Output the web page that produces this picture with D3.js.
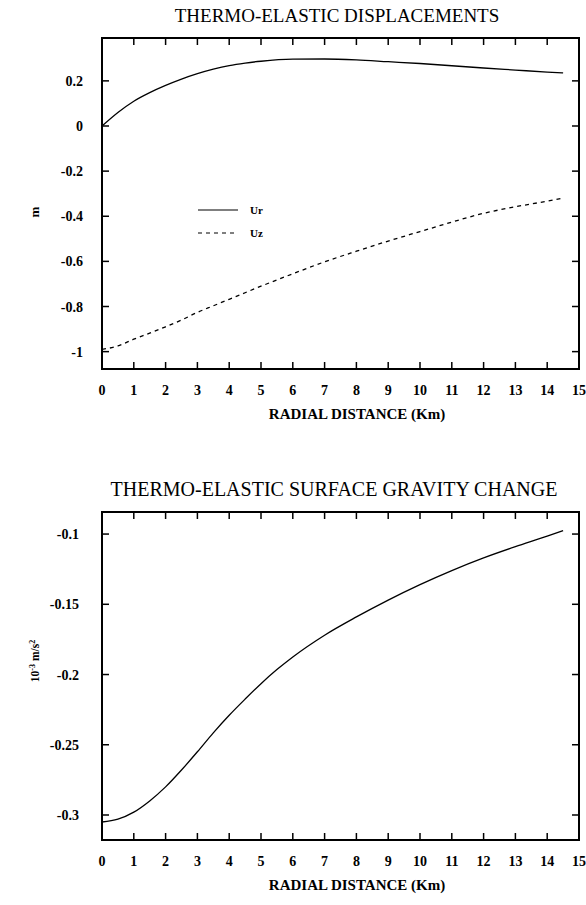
<!DOCTYPE html>
<html>
<head>
<meta charset="utf-8">
<script src="https://cdn.jsdelivr.net/npm/d3@7"></script>
<style>
  body { margin: 0; background: #fff; }
  svg { display: block; }
  text { font-family: "Liberation Serif", "Times New Roman", serif; fill: #000; }
  .tick-label { font-size: 14px; font-weight: bold; }
</style>
</head>
<body>
<div id="chart"></div>
<script>
// radial distance (km) sample points
var distUr = [0, 0.5, 1, 1.5, 2, 2.5, 3, 3.5, 4, 4.5, 5, 6, 7, 8, 9, 10, 11, 12, 13, 14, 14.5];
var valUr  = [0, 0.06, 0.11, 0.148, 0.18, 0.208, 0.232, 0.252, 0.268, 0.279, 0.287, 0.296, 0.297, 0.293, 0.285, 0.277, 0.267, 0.257, 0.248, 0.239, 0.235];

var distUz = [0, 0.5, 1, 1.5, 2, 2.5, 3, 3.5, 4, 5, 6, 7, 8, 9, 10, 11, 12, 13, 14, 14.5];
var valUz  = [-0.99, -0.975, -0.945, -0.918, -0.89, -0.86, -0.826, -0.797, -0.768, -0.71, -0.655, -0.602, -0.555, -0.51, -0.468, -0.426, -0.387, -0.358, -0.333, -0.319];

var distG = [0, 0.5, 1, 1.5, 2, 2.5, 3, 3.5, 4, 4.5, 5, 5.5, 6, 7, 8, 9, 10, 11, 12, 13, 14, 14.5];
var valG  = [-0.305, -0.303, -0.298, -0.29, -0.28, -0.268, -0.255, -0.2415, -0.229, -0.2175, -0.2065, -0.1965, -0.1875, -0.172, -0.159, -0.147, -0.136, -0.126, -0.117, -0.109, -0.1015, -0.0975];

var xTicks = [0, 1, 2, 3, 4, 5, 6, 7, 8, 9, 10, 11, 12, 13, 14, 15];
var yTicksTop = [0.2, 0, -0.2, -0.4, -0.6, -0.8, -1];
var yTicksBot = [-0.1, -0.15, -0.2, -0.25, -0.3];

var svg = d3.select("#chart").append("svg")
  .attr("width", 586)
  .attr("height", 905);

function panel(cfg) {
  var x = d3.scaleLinear().domain([0, 15]).range([cfg.left, cfg.right]);
  var y = d3.scaleLinear().domain(cfg.ydom).range([cfg.bottom, cfg.top]);
  var g = svg.append("g");

  // frame
  g.append("rect")
    .attr("x", cfg.left).attr("y", cfg.top)
    .attr("width", cfg.right - cfg.left).attr("height", cfg.bottom - cfg.top)
    .attr("fill", "none").attr("stroke", "#000").attr("stroke-width", 2);

  // inward ticks on all four sides
  var inner = xTicks.slice(1, -1);
  g.selectAll(".xb").data(inner).enter().append("line")
    .attr("x1", function(d) { return x(d); }).attr("x2", function(d) { return x(d); })
    .attr("y1", cfg.bottom).attr("y2", cfg.bottom - 7)
    .attr("stroke", "#000").attr("stroke-width", 1.5);
  g.selectAll(".xt").data(inner).enter().append("line")
    .attr("x1", function(d) { return x(d); }).attr("x2", function(d) { return x(d); })
    .attr("y1", cfg.top).attr("y2", cfg.top + 7)
    .attr("stroke", "#000").attr("stroke-width", 1.5);
  g.selectAll(".yl").data(cfg.yticks).enter().append("line")
    .attr("x1", cfg.left).attr("x2", cfg.left + 7)
    .attr("y1", function(d) { return y(d); }).attr("y2", function(d) { return y(d); })
    .attr("stroke", "#000").attr("stroke-width", 1.5);
  g.selectAll(".yr").data(cfg.yticks).enter().append("line")
    .attr("x1", cfg.right).attr("x2", cfg.right - 7)
    .attr("y1", function(d) { return y(d); }).attr("y2", function(d) { return y(d); })
    .attr("stroke", "#000").attr("stroke-width", 1.5);

  // tick labels
  g.selectAll(".xlab").data(xTicks).enter().append("text")
    .attr("class", "tick-label")
    .attr("x", function(d) { return x(d); })
    .attr("y", cfg.bottom + 26)
    .attr("text-anchor", "middle")
    .text(function(d) { return d; });
  g.selectAll(".ylab").data(cfg.yticks).enter().append("text")
    .attr("class", "tick-label")
    .attr("x", cfg.ylabX)
    .attr("y", function(d) { return y(d) + 5; })
    .attr("text-anchor", "end")
    .text(function(d) { return String(d); });

  // titles
  g.append("text")
    .attr("x", cfg.titleX).attr("y", cfg.top - 16)
    .attr("text-anchor", "middle")
    .style("font-size", cfg.titleSize)
    .text(cfg.title);
  g.append("text")
    .attr("x", 357).attr("y", cfg.bottom + 50)
    .attr("text-anchor", "middle")
    .style("font-size", "15px").style("font-weight", "bold")
    .text("RADIAL DISTANCE (Km)");

  return { g: g, x: x, y: y };
}

// ---- top: displacements
var p1 = panel({
  left: 102, right: 579, top: 38, bottom: 369,
  ydom: [-1.077, 0.39], yticks: yTicksTop, ylabX: 83,
  title: "THERMO-ELASTIC DISPLACEMENTS", titleX: 337, titleSize: "19px"
});

var line1 = d3.line()
  .curve(d3.curveMonotoneX)
  .x(function(d) { return p1.x(d[0]); })
  .y(function(d) { return p1.y(d[1]); });

p1.g.append("path")
  .datum(d3.zip(distUr, valUr))
  .attr("d", line1)
  .attr("fill", "none").attr("stroke", "#000").attr("stroke-width", 1.3);

p1.g.append("path")
  .datum(d3.zip(distUz, valUz))
  .attr("d", line1)
  .attr("fill", "none").attr("stroke", "#000").attr("stroke-width", 1.3)
  .attr("stroke-dasharray", "4,4");

p1.g.append("text")
  .attr("transform", "translate(39,212) rotate(-90)")
  .attr("text-anchor", "middle")
  .style("font-size", "13px").style("font-weight", "bold")
  .text("m");

// legend
var legend = p1.g.append("g");
legend.append("line")
  .attr("x1", 198).attr("x2", 238).attr("y1", 210).attr("y2", 210)
  .attr("stroke", "#000").attr("stroke-width", 1.2);
legend.append("line")
  .attr("x1", 198).attr("x2", 238).attr("y1", 233).attr("y2", 233)
  .attr("stroke", "#000").attr("stroke-width", 1.2).attr("stroke-dasharray", "4,4");
legend.append("text").attr("x", 250).attr("y", 214)
  .style("font-size", "11px").style("font-weight", "bold").text("Ur");
legend.append("text").attr("x", 250).attr("y", 237)
  .style("font-size", "11px").style("font-weight", "bold").text("Uz");

// ---- bottom: gravity change
var p2 = panel({
  left: 102, right: 579, top: 512, bottom: 840,
  ydom: [-0.3178, -0.0843], yticks: yTicksBot, ylabX: 79,
  title: "THERMO-ELASTIC SURFACE GRAVITY CHANGE", titleX: 334, titleSize: "20px"
});

var line2 = d3.line()
  .curve(d3.curveMonotoneX)
  .x(function(d) { return p2.x(d[0]); })
  .y(function(d) { return p2.y(d[1]); });

p2.g.append("path")
  .datum(d3.zip(distG, valG))
  .attr("d", line2)
  .attr("fill", "none").attr("stroke", "#000").attr("stroke-width", 1.3);

var ylab2 = p2.g.append("text")
  .attr("transform", "translate(39,661) rotate(-90)")
  .attr("text-anchor", "middle")
  .style("font-size", "11.5px").style("font-weight", "bold");
ylab2.append("tspan").text("10");
ylab2.append("tspan").attr("dy", -4).style("font-size", "8px").text("-3");
ylab2.append("tspan").attr("dy", 4).text(" m/s");
ylab2.append("tspan").attr("dy", -4).style("font-size", "8px").text("2");
</script>
</body>
</html>
